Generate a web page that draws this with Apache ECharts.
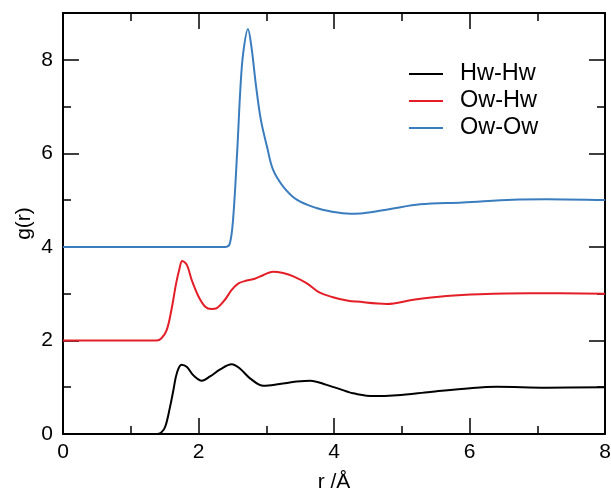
<!DOCTYPE html>
<html>
<head>
<meta charset="utf-8">
<script src="https://cdn.jsdelivr.net/npm/echarts@6/dist/echarts.min.js"></script>
<style>
  html, body { margin: 0; padding: 0; background: #fff; }
  #main { width: 611px; height: 495px; }
</style>
</head>
<body>
<div id="main"></div>
<script>
// r (Å) and g(r); curves are already vertically shifted (0, 2, 4)
var seriesNames = ['Hw-Hw', 'Ow-Hw', 'Ow-Ow'];
var seriesColors = ['#000000', '#e41e26', '#3a7dbf'];

var rHH = [0, 1.0, 1.38, 1.45, 1.51, 1.58, 1.63, 1.68, 1.75, 1.83, 1.92, 2.05, 2.17, 2.32, 2.49, 2.61, 2.76, 2.96, 3.20, 3.45, 3.65, 3.89, 4.19, 4.28, 4.58, 4.93, 5.42, 6.01, 6.40, 7.14, 8.0];
var gHH = [0, 0, 0, 0.03, 0.16, 0.58, 0.94, 1.30, 1.48, 1.43, 1.26, 1.14, 1.23, 1.38, 1.49, 1.40, 1.19, 1.03, 1.07, 1.12, 1.14, 1.05, 0.91, 0.87, 0.81, 0.83, 0.90, 0.98, 1.01, 0.99, 1.0];

var rOH = [0, 1.0, 1.38, 1.45, 1.53, 1.60, 1.67, 1.72, 1.76, 1.83, 1.90, 2.00, 2.10, 2.19, 2.27, 2.39, 2.49, 2.59, 2.71, 2.83, 2.96, 3.10, 3.25, 3.40, 3.60, 3.79, 3.97, 4.21, 4.33, 4.78, 5.17, 5.66, 6.15, 6.89, 8.0];
var gOH = [2.0, 2.0, 2.0, 2.04, 2.22, 2.65, 3.22, 3.54, 3.70, 3.61, 3.29, 2.94, 2.72, 2.67, 2.69, 2.87, 3.08, 3.22, 3.28, 3.32, 3.40, 3.47, 3.44, 3.37, 3.22, 3.02, 2.93, 2.85, 2.83, 2.78, 2.87, 2.95, 2.99, 3.01, 3.0];

var rOO = [0, 1.5, 2.40, 2.46, 2.51, 2.57, 2.62, 2.66, 2.73, 2.78, 2.85, 2.92, 3.01, 3.10, 3.25, 3.45, 3.74, 3.94, 4.24, 4.43, 4.83, 5.27, 5.90, 6.64, 7.14, 8.0];
var gOO = [4.0, 4.0, 4.0, 4.06, 4.58, 6.01, 7.43, 8.15, 8.66, 8.29, 7.43, 6.72, 6.15, 5.65, 5.29, 5.01, 4.83, 4.76, 4.71, 4.72, 4.81, 4.91, 4.95, 5.01, 5.02, 5.0];

var xTicks = [0, 2, 4, 6, 8];
var yTicks = [0, 2, 4, 6, 8];
var yMinorTicks = [1, 3, 5, 7];

var FONT = 'Liberation Sans, Arial, sans-serif';

function pairs(xs, ys) {
    var res = [];
    for (var i = 0; i < xs.length; i++) {
        res.push([xs[i], ys[i]]);
    }
    return res;
}

var myChart = echarts.init(document.getElementById('main'));

var lineStyleAxis = { color: '#000', width: 2 };
var tickStyle = { color: '#000', width: 1.5 };

function xAxisOpt(pos, showLabel) {
    return {
        type: 'value',
        position: pos,
        min: 0,
        max: 8,
        interval: 2,
        name: showLabel ? 'r /Å' : '',
        nameLocation: 'middle',
        nameGap: 38,
        nameMoveOverlap: false,
        nameTextStyle: { fontSize: 21, color: '#000', fontFamily: FONT },
        axisLine: { show: true, onZero: false, lineStyle: lineStyleAxis },
        axisTick: { show: true, inside: true, length: 16, lineStyle: tickStyle },
        minorTick: { show: true, splitNumber: 2, length: 8, lineStyle: tickStyle },
        axisLabel: {
            show: showLabel, margin: 8, fontSize: 21, color: '#000', fontFamily: FONT,
            customValues: xTicks
        },
        splitLine: { show: false },
        minorSplitLine: { show: false }
    };
}

function yAxisOpt(pos, major, showLabel) {
    return {
        type: 'value',
        position: pos,
        min: 0,
        max: 9,
        name: showLabel ? 'g(r)' : '',
        nameLocation: 'middle',
        nameGap: 28,
        nameMoveOverlap: false,
        nameTextStyle: { fontSize: 21, color: '#000', fontFamily: FONT },
        axisLine: { show: major, onZero: false, lineStyle: lineStyleAxis },
        axisTick: {
            show: true, inside: true, length: major ? 16 : 8, lineStyle: tickStyle,
            customValues: major ? yTicks : yMinorTicks
        },
        axisLabel: {
            show: showLabel, margin: 10, fontSize: 21, color: '#000', fontFamily: FONT,
            customValues: yTicks
        },
        splitLine: { show: false }
    };
}

var series = [];
var xs = [rHH, rOH, rOO];
var ys = [gHH, gOH, gOO];
for (var k = 0; k < 3; k++) {
    series.push({
        name: seriesNames[k],
        type: 'line',
        data: pairs(xs[k], ys[k]),
        showSymbol: false,
        smooth: 0.35,
        color: seriesColors[k],
        lineStyle: { color: seriesColors[k], width: 2 },
        animation: false
    });
}

var option = {
    animation: false,
    grid: { left: 63, right: 6, top: 13, bottom: 61, containLabel: false, outerBoundsMode: 'none' },
    legend: {
        orient: 'vertical',
        left: 404,
        top: 57,
        icon: 'rect',
        itemWidth: 34,
        itemHeight: 2,
        itemGap: 3,
        textStyle: { fontSize: 23.5, color: '#000', fontFamily: FONT, padding: [0, 0, 0, 12] },
        data: seriesNames
    },
    xAxis: [xAxisOpt('bottom', true), xAxisOpt('top', false)],
    yAxis: [
        yAxisOpt('left', true, true),
        yAxisOpt('left', false, false),
        yAxisOpt('right', true, false),
        yAxisOpt('right', false, false)
    ],
    series: series
};

myChart.setOption(option);
window.addEventListener('resize', function () {
    myChart.resize();
});
</script>
</body>
</html>
